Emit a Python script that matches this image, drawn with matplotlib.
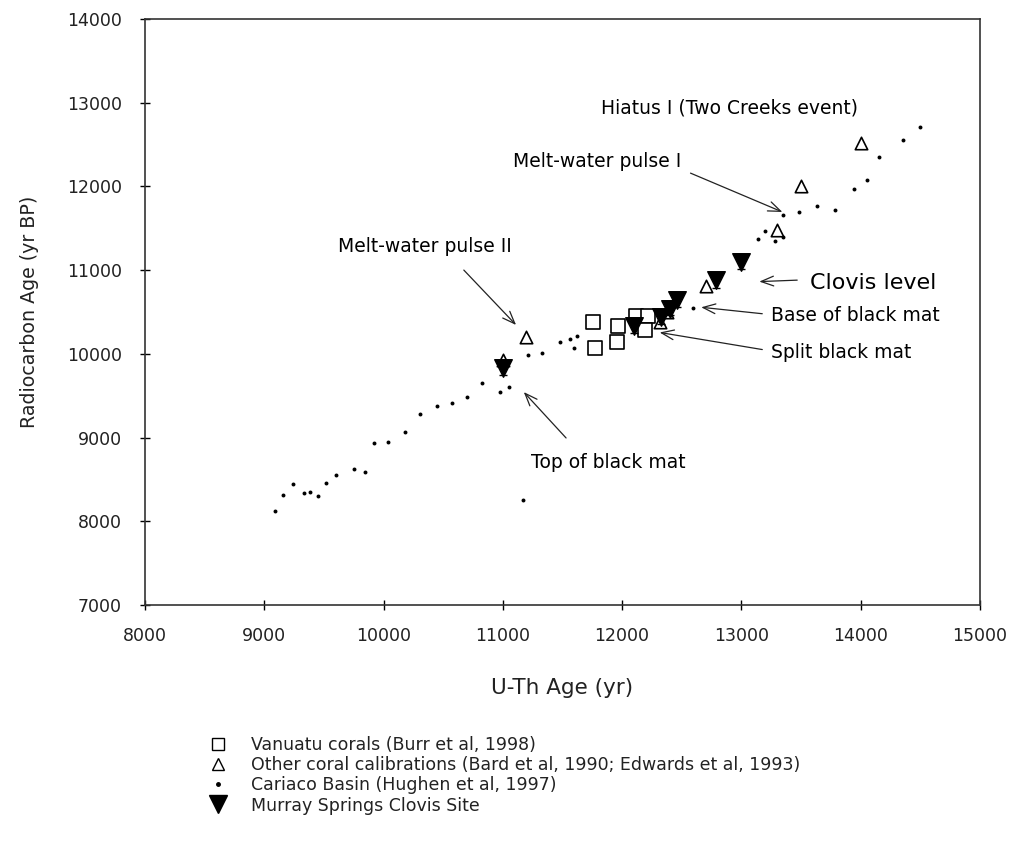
import matplotlib
matplotlib.use("Agg")
import matplotlib.pyplot as plt
from matplotlib.lines import Line2D

plt.rcParams['font.family'] = ['DejaVu Sans']

# ---- data ----
cariaco_x = [9090, 9160, 9245, 9330, 9385, 9450, 9520, 9600, 9750, 9845,
             9920, 10035, 10180, 10305, 10450, 10575, 10700, 10825, 10975, 11055,
             11170, 11210, 11325, 11480, 11560, 11600, 11620, 12595, 13140, 13200,
             13280, 13350, 13350, 13480, 13630, 13785, 13945, 14050, 14150, 14355,
             14500]
cariaco_y = [8125, 8315, 8445, 8335, 8355, 8300, 8455, 8555, 8620, 8590,
             8930, 8950, 9070, 9280, 9375, 9415, 9490, 9650, 9550, 9600,
             8255, 9985, 10010, 10140, 10180, 10070, 10210, 10550, 11370, 11470,
             11350, 11400, 11660, 11700, 11765, 11720, 11975, 12075, 12350, 12555,
             12715]

vanuatu_x = [11755, 11770, 11965, 11960, 12115, 12215, 12195]
vanuatu_y = [10380, 10070, 10330, 10145, 10450, 10450, 10290]

coral_x = [11000, 11195, 12320, 12380, 12700, 13300, 13500, 14000]
coral_y = [9930, 10200, 10380, 10500, 10810, 11480, 12000, 12520]

murray_x = [11000, 12100, 12330, 12400, 12460, 12790, 13000]
murray_y = [9830, 10330, 10440, 10540, 10640, 10880, 11100]
murray_err = [80, 80, 80, 80, 80, 90, 90]

legend_labels = ["Vanuatu corals (Burr et al, 1998)",
                 "Other coral calibrations (Bard et al, 1990; Edwards et al, 1993)",
                 "Cariaco Basin (Hughen et al, 1997)",
                 "Murray Springs Clovis Site"]

x_ticks = [8000, 9000, 10000, 11000, 12000, 13000, 14000, 15000]
y_ticks = [7000, 8000, 9000, 10000, 11000, 12000, 13000, 14000]

# ---- figure ----
fig = plt.figure(figsize=(10.13, 8.49), dpi=100)
ax = fig.add_axes([0.1431, 0.2874, 0.8243, 0.6902])

ax.scatter(cariaco_x, cariaco_y, s=8, marker='o', color='black', zorder=3, linewidths=0)
ax.scatter(vanuatu_x, vanuatu_y, s=90, marker='s', facecolors='white',
           edgecolors='black', linewidths=1.2, zorder=4)
ax.scatter(coral_x, coral_y, s=80, marker='^', facecolors='white',
           edgecolors='black', linewidths=1.2, zorder=5)
ax.errorbar(murray_x, murray_y, yerr=murray_err, fmt='none', ecolor='black',
            elinewidth=1, capsize=3, zorder=6)
ax.scatter(murray_x, murray_y, s=160, marker='v', color='black', zorder=6)

ax.set_xlim(8000, 15000)
ax.set_ylim(7000, 14000)
ax.set_xticks(x_ticks)
ax.set_yticks(y_ticks)
ax.tick_params(direction='inout', length=7, width=1, labelsize=12.5,
               labelcolor='#222222')
ax.tick_params(axis='x', pad=12)
ax.tick_params(axis='y', pad=13)
for sp in ax.spines.values():
    sp.set_linewidth(1.2)
    sp.set_color('#333333')

ax.set_xlabel("U-Th Age (yr)", fontsize=15.5, color='#222222', labelpad=24)
ax.set_ylabel("Radiocarbon Age (yr BP)", fontsize=13.7, color='#222222', labelpad=20)

# ---- annotations ----
arrow = dict(arrowstyle='->, head_length=0.9, head_width=0.35', lw=0.9, color='#222222')
fs = 13.5
ax.text(11823, 12937, "Hiatus I (Two Creeks event)", fontsize=fs, va='center', ha='left')
ax.text(11085, 12292, "Melt-water pulse I", fontsize=fs, va='center', ha='left')
ax.annotate('', xy=(13365, 11682), xytext=(12552, 12172), arrowprops=arrow)
ax.text(9618, 11288, "Melt-water pulse II", fontsize=fs, va='center', ha='left')
ax.annotate('', xy=(11127, 10321), xytext=(10657, 11025), arrowprops=arrow)
ax.text(13575, 10846, "Clovis level", fontsize=16, va='center', ha='left')
ax.annotate('', xy=(13127, 10862), xytext=(13491, 10882), arrowprops=arrow)
ax.text(13248, 10464, "Base of black mat", fontsize=fs, va='center', ha='left')
ax.annotate('', xy=(12640, 10560), xytext=(13198, 10476), arrowprops=arrow)
ax.text(13248, 10022, "Split black mat", fontsize=fs, va='center', ha='left')
ax.annotate('', xy=(12292, 10261), xytext=(13198, 10046), arrowprops=arrow)
ax.text(11236, 8708, "Top of black mat", fontsize=fs, va='center', ha='left')
ax.annotate('', xy=(11160, 9568), xytext=(11546, 8971), arrowprops=arrow)

# ---- legend ----
handles = [
    Line2D([], [], ls='none', marker='s', markersize=8, markerfacecolor='white',
           markeredgecolor='black', markeredgewidth=1),
    Line2D([], [], ls='none', marker='^', markersize=8, markerfacecolor='white',
           markeredgecolor='black', markeredgewidth=1),
    Line2D([], [], ls='none', marker='o', markersize=2.5, color='black'),
    Line2D([], [], ls='none', marker='v', markersize=13, color='black'),
]
fig.legend(handles, legend_labels, loc='upper left', bbox_to_anchor=(0.196, 0.143),
           frameon=False, fontsize=12.5, handlelength=1.2, handletextpad=1.3,
           labelspacing=0.12, borderpad=0, labelcolor='#222222')

fig.savefig("out.png", dpi=100)
